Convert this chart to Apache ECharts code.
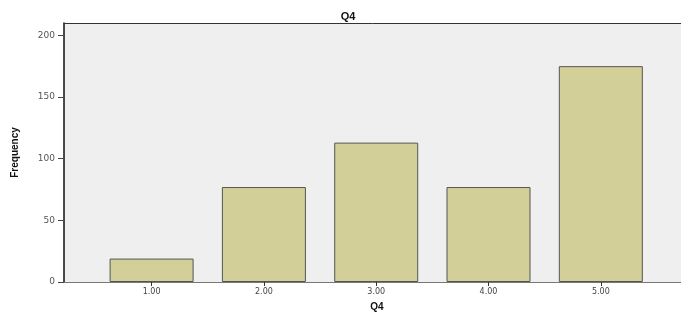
<!DOCTYPE html>
<html>
<head>
<meta charset="utf-8">
<script src="https://cdn.jsdelivr.net/npm/echarts@6/dist/echarts.min.js"></script>
<style>html,body{margin:0;padding:0;background:#fff;}#c{width:681px;height:317px;}</style>
</head>
<body>
<div id="c"></div>
<script>
var categories = [1, 2, 3, 4, 5];
var frequencies = [19, 77, 113, 77, 175];
var yTicks = [0, 50, 100, 150, 200];

var chart = echarts.init(document.getElementById('c'), null, {renderer: 'canvas'});
var barData = categories.map(function (c, i) { return [c, frequencies[i]]; });
chart.setOption({
  animation: false,
  backgroundColor: '#ffffff',
  title: {
    text: 'Q4', left: 343, top: 6, textAlign: 'center',
    textStyle: {fontFamily: 'Liberation Sans', fontSize: 11, fontWeight: 'bold', color: '#111'}
  },
  grid: {left: 64, top: 23, right: 0, bottom: 33, show: true, backgroundColor: '#efefef', borderWidth: 0},
  xAxis: [{
    type: 'value', min: 0.22, max: 5.714, position: 'bottom',
    name: 'Q4', nameLocation: 'middle', nameGap: 20,
    nameTextStyle: {fontFamily: 'Liberation Sans', fontSize: 10, fontWeight: 'bold', color: '#111', padding: [0, 0, 0, 9]},
    splitLine: {show: false},
    axisLine: {show: true, lineStyle: {color: '#777', width: 1}},
    axisTick: {show: true, length: 4, customValues: categories, lineStyle: {color: '#333'}},
    axisLabel: {customValues: categories, margin: 6, fontFamily: 'DejaVu Sans', fontSize: 8, color: '#444',
      formatter: function (v) { return v.toFixed(2); }}
  }, {
    type: 'value', min: 0.22, max: 5.714, position: 'top',
    splitLine: {show: false}, axisTick: {show: false}, axisLabel: {show: false},
    axisLine: {show: true, lineStyle: {color: '#333', width: 1}}
  }],
  yAxis: {
    type: 'value', min: 0, max: 210,
    name: 'Frequency', nameLocation: 'middle', nameRotate: 90, nameGap: 44,
    nameTextStyle: {fontFamily: 'Liberation Sans', fontSize: 10, fontWeight: 'bold', color: '#111'},
    splitLine: {show: false},
    axisLine: {show: true, lineStyle: {color: '#111', width: 1.5}},
    axisTick: {show: true, length: 6, customValues: yTicks, lineStyle: {color: '#444'}},
    axisLabel: {customValues: yTicks, margin: 9, fontFamily: 'DejaVu Sans', fontSize: 9, color: '#555'}
  },
  series: [{
    type: 'bar', xAxisIndex: 0, data: barData, barWidth: 84,
    itemStyle: {color: '#d3cf98', borderColor: '#555', borderWidth: 1}
  }]
});
</script>
</body>
</html>
